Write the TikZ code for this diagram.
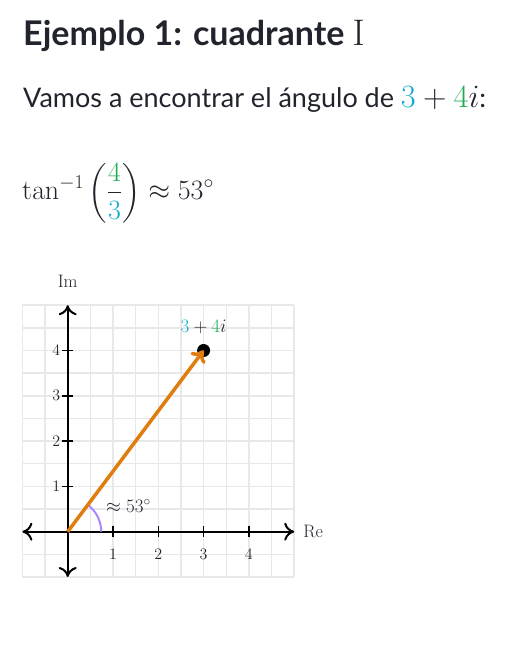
\RequirePackage{fix-cm}
\documentclass[tikz,border=0pt]{standalone}
\usepackage{xcolor}
\usepackage[no-math]{fontspec}
\setmainfont{Lato}
\usepackage{tikz}
\usetikzlibrary{arrows.meta, positioning}
\usepackage{amsmath}

\definecolor{inkdark}{HTML}{21242C}
\definecolor{kablue}{HTML}{11ACCD}
\definecolor{kagreen}{HTML}{1FAB54}
\definecolor{vecorange}{HTML}{E07D10}
\definecolor{arcpurple}{HTML}{AA87FF}

\begin{document}
\begin{tikzpicture}[
  x=1pt, y=1pt,
  every node/.style={inner sep=0pt, text=inkdark},
  gridline/.style={line width=1.5pt, draw=black!9},
  axis/.style={line width=2pt, line cap=round,
    {Computer Modern Rightarrow[length=10pt,width=18pt,line cap=round]}-{Computer Modern Rightarrow[length=10pt,width=18pt,line cap=round]}},
  tickmark/.style={line width=1.5pt},
  lbl/.style={font=\fontsize{16}{18}\selectfont},
  axlbl/.style={font=\fontsize{18}{20}\selectfont},
  biglbl/.style={font=\fontsize{19}{22}\selectfont},
  vec/.style={line width=3.5pt, draw=vecorange,
    -{Computer Modern Rightarrow[length=11pt,width=18pt,line cap=round]}},
  arcline/.style={line width=2pt, draw=arcpurple},
]
  \useasboundingbox (0,0) rectangle (518,645);

  \node[anchor=base west, font=\fontsize{34}{40}\selectfont\bfseries] (title) at (23,599)
       {Ejemplo 1: cuadrante {\fontsize{37}{40}\selectfont$\mathrm{I}$}};
  \node[anchor=base west, font=\fontsize{27}{30}\selectfont] (intro) at (23,537)
       {Vamos a encontrar el ángulo de {\fontsize{32.5}{36}\selectfont$\textcolor{kablue}{3}+\textcolor{kagreen}{4}i$}:};
  \node[anchor=base west, font=\fontsize{28}{32}\selectfont] (eq) at (22,445)
       {$\displaystyle \tan^{-1}\left(\frac{\textcolor{kagreen}{4}}{\textcolor{kablue}{3}}\right)\approx 53^\circ$};

  % complex plane
  \begin{scope}[shift={(67.7,113.3)}, x=45.3pt, y=45.3pt]
    \draw[gridline] (-1,-1) grid[step=0.5] (5,5);

    \coordinate (O) at (0,0);
    \coordinate (xl) at (-1,0);
    \coordinate (xr) at (5,0);
    \coordinate (yb) at (0,-1);
    \coordinate (yt) at (0,5);
    \coordinate (P) at (3,4);

    \draw[axis] (xl) -- (xr);
    \draw[axis] (yb) -- (yt);

    \foreach \k in {1,...,4} {
      \draw[tickmark] (\k,-0.12) -- (\k,0.12);
      \draw[tickmark] (-0.12,\k) -- (0.12,\k);
      \node[lbl, anchor=north] (xn\k) at (\k,-0.38) {$\k$};
      \node[lbl, anchor=east] (yn\k) at (-0.16,\k) {$\k$};
    }

    \node[axlbl] (im) at (0,5.52) {$\mathrm{Im}$};
    \node[axlbl, anchor=west] (re) at (5.2,0) {$\mathrm{Re}$};

    \draw[arcline] (0.74,0) arc[start angle=0, end angle=53.13, radius=0.74];
    \node[biglbl] (ang) at (1.34,0.57) {$\approx 53^\circ$};

    \fill (P) circle (6.5pt);
    \draw[vec] (O) -- (P);
    \node[biglbl] (pt) at (3,4.53) {$\textcolor{kablue}{3}+\textcolor{kagreen}{4}i$};
  \end{scope}
\end{tikzpicture}
\end{document}
